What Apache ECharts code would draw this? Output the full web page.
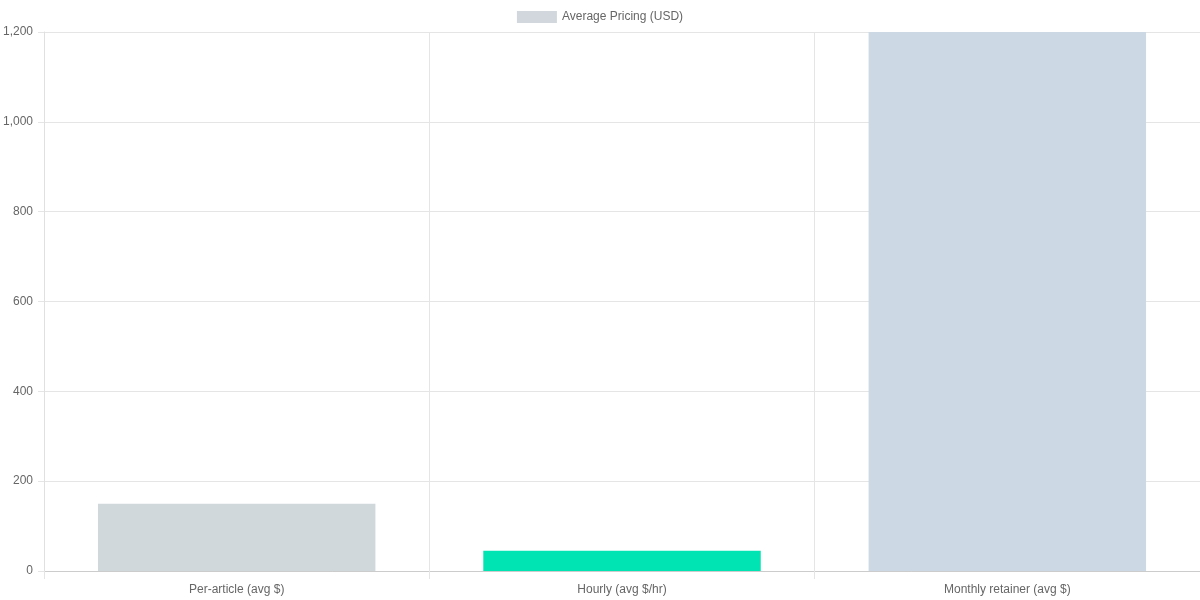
<!DOCTYPE html>
<html>
<head>
<meta charset="utf-8">
<script src="https://cdn.jsdelivr.net/npm/echarts@6/dist/echarts.min.js"></script>
<style>html,body{margin:0;padding:0;background:#fff}#c{width:1200px;height:600px}</style>
</head>
<body>
<div id="c"></div>
<script>
const categories = ['Per-article (avg $)', 'Hourly (avg $/hr)', 'Monthly retainer (avg $)'];
const values = [150, 45, 1200];
const barColors = ['#d1d8db', '#00e4b4', '#cdd8e5'];
const seriesName = 'Average Pricing (USD)';

const chart = echarts.init(document.getElementById('c'));
const font = 'Liberation Sans, Arial, Helvetica, sans-serif';
chart.setOption({
  animation: false,
  textStyle: { fontFamily: font },
  legend: {
    top: 6, left: 'center',
    itemWidth: 40, itemHeight: 12, itemGap: 10,
    icon: 'rect',
    textStyle: { color: '#666', fontSize: 12, fontFamily: font },
    data: [{ name: seriesName, itemStyle: { color: '#d1d7dc' } }]
  },
  grid: { left: 43, right: 0, top: 32, bottom: 29, containLabel: false },
  xAxis: {
    type: 'category', data: categories, boundaryGap: true,
    axisLine: { show: true, lineStyle: { color: '#ccc' } },
    axisTick: { show: true, alignWithLabel: false, length: 8, lineStyle: { color: '#e5e5e5' } },
    axisLabel: { color: '#666', fontSize: 12, margin: 13, fontFamily: font },
    splitLine: { show: true, lineStyle: { color: '#e5e5e5' } }
  },
  yAxis: {
    type: 'value', min: 0, max: 1200, interval: 200,
    axisLine: { show: true, lineStyle: { color: '#e0e0e0' } },
    axisTick: { show: true, length: 6, lineStyle: { color: '#e5e5e5' } },
    axisLabel: {
      color: '#666', fontSize: 12, margin: 11, fontFamily: font,
      formatter: v => v.toLocaleString('en-US')
    },
    splitLine: { show: true, lineStyle: { color: '#e5e5e5' } }
  },
  series: [{
    name: seriesName, type: 'bar', barCategoryGap: '28%',
    itemStyle: { color: '#d1d7dc' },
    data: values.map((v, i) => ({ value: v, itemStyle: { color: barColors[i] } }))
  }]
});
</script>
</body>
</html>
